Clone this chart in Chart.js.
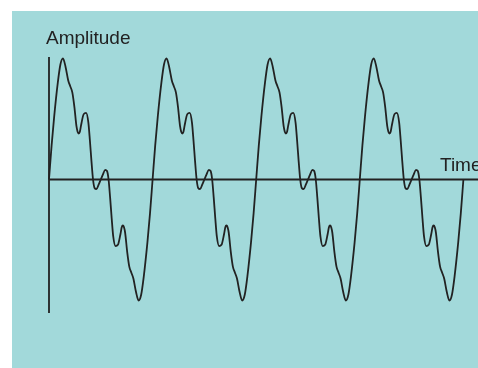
<!DOCTYPE html>
<html>
<head>
<meta charset="utf-8">
<script src="https://cdn.jsdelivr.net/npm/chart.js@4"></script>
<style>
  body { margin: 0; background: #fff; }
  canvas { display: block; }
</style>
</head>
<body>
<canvas id="onda" width="478" height="368"></canvas>
<script>
// Time (in periods) and amplitude, one row per period
const time = [
  0.000, 0.025, 0.050, 0.085, 0.110, 0.135, 0.160, 0.185, 0.205, 0.225, 0.245, 0.265, 0.276, 0.287, 0.298, 0.310, 0.335, 0.358, 0.380, 0.395, 0.410, 0.425, 0.440, 0.458, 0.480, 0.500, 0.520, 0.542, 0.560, 0.575, 0.590, 0.605, 0.620, 0.642, 0.665, 0.690, 0.702, 0.713, 0.724, 0.735, 0.755, 0.775, 0.795, 0.815, 0.840, 0.865, 0.890, 0.915, 0.950, 0.975,
  1.000, 1.025, 1.050, 1.085, 1.110, 1.135, 1.160, 1.185, 1.205, 1.225, 1.245, 1.265, 1.276, 1.287, 1.298, 1.310, 1.335, 1.358, 1.380, 1.395, 1.410, 1.425, 1.440, 1.458, 1.480, 1.500, 1.520, 1.542, 1.560, 1.575, 1.590, 1.605, 1.620, 1.642, 1.665, 1.690, 1.702, 1.713, 1.724, 1.735, 1.755, 1.775, 1.795, 1.815, 1.840, 1.865, 1.890, 1.915, 1.950, 1.975,
  2.000, 2.025, 2.050, 2.085, 2.110, 2.135, 2.160, 2.185, 2.205, 2.225, 2.245, 2.265, 2.276, 2.287, 2.298, 2.310, 2.335, 2.358, 2.380, 2.395, 2.410, 2.425, 2.440, 2.458, 2.480, 2.500, 2.520, 2.542, 2.560, 2.575, 2.590, 2.605, 2.620, 2.642, 2.665, 2.690, 2.702, 2.713, 2.724, 2.735, 2.755, 2.775, 2.795, 2.815, 2.840, 2.865, 2.890, 2.915, 2.950, 2.975,
  3.000, 3.025, 3.050, 3.085, 3.110, 3.135, 3.160, 3.185, 3.205, 3.225, 3.245, 3.265, 3.276, 3.287, 3.298, 3.310, 3.335, 3.358, 3.380, 3.395, 3.410, 3.425, 3.440, 3.458, 3.480, 3.500, 3.520, 3.542, 3.560, 3.575, 3.590, 3.605, 3.620, 3.642, 3.665, 3.690, 3.702, 3.713, 3.724, 3.735, 3.755, 3.775, 3.795, 3.815, 3.840, 3.865, 3.890, 3.915, 3.950, 3.975,
  4.000
];
const amplitude = [
  0.00, 0.28, 0.52, 0.80, 0.95, 1.00, 0.93, 0.82, 0.77, 0.72, 0.60, 0.44, 0.395, 0.38, 0.395, 0.45, 0.54, 0.55, 0.47, 0.32, 0.15, 0.00, -0.07, -0.08, -0.04, 0.00, 0.04, 0.08, 0.07, 0.00, -0.15, -0.32, -0.47, -0.55, -0.54, -0.45, -0.395, -0.38, -0.395, -0.44, -0.60, -0.72, -0.77, -0.82, -0.93, -1.00, -0.95, -0.80, -0.52, -0.28,
  0.00, 0.28, 0.52, 0.80, 0.95, 1.00, 0.93, 0.82, 0.77, 0.72, 0.60, 0.44, 0.395, 0.38, 0.395, 0.45, 0.54, 0.55, 0.47, 0.32, 0.15, 0.00, -0.07, -0.08, -0.04, 0.00, 0.04, 0.08, 0.07, 0.00, -0.15, -0.32, -0.47, -0.55, -0.54, -0.45, -0.395, -0.38, -0.395, -0.44, -0.60, -0.72, -0.77, -0.82, -0.93, -1.00, -0.95, -0.80, -0.52, -0.28,
  0.00, 0.28, 0.52, 0.80, 0.95, 1.00, 0.93, 0.82, 0.77, 0.72, 0.60, 0.44, 0.395, 0.38, 0.395, 0.45, 0.54, 0.55, 0.47, 0.32, 0.15, 0.00, -0.07, -0.08, -0.04, 0.00, 0.04, 0.08, 0.07, 0.00, -0.15, -0.32, -0.47, -0.55, -0.54, -0.45, -0.395, -0.38, -0.395, -0.44, -0.60, -0.72, -0.77, -0.82, -0.93, -1.00, -0.95, -0.80, -0.52, -0.28,
  0.00, 0.28, 0.52, 0.80, 0.95, 1.00, 0.93, 0.82, 0.77, 0.72, 0.60, 0.44, 0.395, 0.38, 0.395, 0.45, 0.54, 0.55, 0.47, 0.32, 0.15, 0.00, -0.07, -0.08, -0.04, 0.00, 0.04, 0.08, 0.07, 0.00, -0.15, -0.32, -0.47, -0.55, -0.54, -0.45, -0.395, -0.38, -0.395, -0.44, -0.60, -0.72, -0.77, -0.82, -0.93, -1.00, -0.95, -0.80, -0.52, -0.28,
  0.00
];
const yLabel = "Amplitude";
const xLabel = "Time";

const tinta = "#222222";
const fundo = "#a2d9da";

// fundo, eixos e rótulos desenhados por cima/baixo do gráfico
const eixos = {
  id: "eixos",
  beforeDraw(chart) {
    const ctx = chart.ctx;
    ctx.save();
    ctx.fillStyle = "#ffffff";
    ctx.fillRect(0, 0, chart.width, chart.height);
    ctx.fillStyle = fundo;
    ctx.fillRect(12, 11, chart.width - 12, chart.height - 11);
    ctx.restore();
  },
  afterDatasetsDraw(chart) {
    const { ctx, chartArea, scales } = chart;
    const x0 = scales.x.getPixelForValue(0);
    const y0 = scales.y.getPixelForValue(0);
    ctx.save();
    ctx.strokeStyle = tinta;
    ctx.lineWidth = 1.8;
    ctx.beginPath();
    ctx.moveTo(x0, chartArea.top);
    ctx.lineTo(x0, chartArea.bottom);
    ctx.moveTo(x0, y0);
    ctx.lineTo(chart.width, y0);
    ctx.stroke();
    ctx.fillStyle = tinta;
    ctx.font = '19px "Liberation Sans", Arial, sans-serif';
    ctx.textBaseline = "alphabetic";
    ctx.fillText(yLabel, 46, 44);
    ctx.fillText(xLabel, 440, 171);
    ctx.restore();
  }
};

new Chart(document.getElementById("onda"), {
  type: "line",
  data: {
    datasets: [{
      data: time.map((t, i) => ({ x: t, y: amplitude[i] })),
      borderColor: tinta,
      borderWidth: 1.8,
      pointRadius: 0,
      fill: false,
      cubicInterpolationMode: "monotone",
      clip: false
    }]
  },
  options: {
    responsive: false,
    animation: false,
    devicePixelRatio: 1,
    layout: { padding: { left: 49, top: 57, right: 0, bottom: 55 } },
    plugins: { legend: { display: false }, tooltip: { enabled: false } },
    scales: {
      x: { type: "linear", display: false, min: 0, max: 4.141 },
      y: { type: "linear", display: false, min: -1.103, max: 1.012 }
    }
  },
  plugins: [eixos]
});
</script>
</body>
</html>
